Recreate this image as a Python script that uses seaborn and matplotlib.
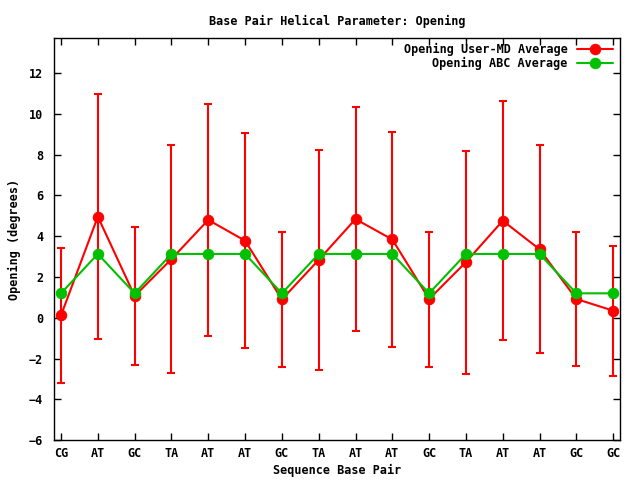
import numpy as np
import pandas as pd
import matplotlib
matplotlib.use("Agg")
import matplotlib.pyplot as plt
import seaborn as sns

# Data
base_pairs = ["CG", "AT", "GC", "TA", "AT", "AT", "GC", "TA",
              "AT", "AT", "GC", "TA", "AT", "AT", "GC", "GC"]
user_md_avg = [0.12, 4.96, 1.07, 2.88, 4.80, 3.78, 0.90, 2.84,
               4.84, 3.84, 0.92, 2.73, 4.76, 3.36, 0.92, 0.35]
user_md_sd = [3.32, 5.99, 3.39, 5.57, 5.69, 5.28, 3.29, 5.39,
              5.48, 5.28, 3.31, 5.47, 5.86, 5.10, 3.28, 3.19]
abc_avg = [1.20, 3.13, 1.20, 3.13, 3.13, 3.13, 1.20, 3.13,
           3.13, 3.13, 1.20, 3.13, 3.13, 3.13, 1.20, 1.20]

red = "#ff0000"
green = "#00c000"

sns.set_style("ticks")
plt.rcParams["font.family"] = ["DejaVu Sans Mono"]
plt.rcParams["font.weight"] = "bold"
plt.rcParams["font.size"] = 8.5
for key in ["text.color", "axes.labelcolor", "xtick.color", "ytick.color",
            "axes.edgecolor"]:
    plt.rcParams[key] = "black"

df = pd.DataFrame({
    "pos": np.arange(len(base_pairs)),
    "user_md": user_md_avg,
    "sd": user_md_sd,
    "abc": abc_avg,
})

fig = plt.figure(figsize=(6.4, 4.8), dpi=100)
ax = fig.add_axes([0.085, 0.083, 0.884, 0.837])

ax.errorbar(df["pos"], df["user_md"], yerr=df["sd"], fmt="none",
            ecolor=red, elinewidth=1.5, capsize=3, capthick=1.5, zorder=2)
sns.lineplot(data=df, x="pos", y="user_md", ax=ax, color=red, lw=1.5,
             marker="o", markersize=7.5, markeredgecolor=red,
             label="Opening User-MD Average", zorder=3)
sns.lineplot(data=df, x="pos", y="abc", ax=ax, color=green, lw=1.5,
             marker="o", markersize=7.5, markeredgecolor=green,
             label="Opening ABC Average", zorder=4)

ax.set_xlim(-0.18, 15.19)
ax.set_ylim(-6, 13.7)
ax.set_xticks(df["pos"])
ax.set_xticklabels(base_pairs)
ax.set_yticks(np.arange(-6, 13, 2))
ax.tick_params(direction="in", top=True, right=True, length=5, width=1,
               labelsize=8.5, colors="black")
ax.tick_params(axis="y", pad=8)
ax.tick_params(axis="x", pad=5)
for s in ax.spines.values():
    s.set_linewidth(1)
    s.set_color("black")

ax.set_title("Base Pair Helical Parameter: Opening", fontsize=8.5,
             fontweight="bold", pad=10, color="black")
ax.set_xlabel("Sequence Base Pair", fontweight="bold", labelpad=3)
ax.set_ylabel("Opening (degrees)", fontweight="bold", labelpad=6)

ax.legend(loc="upper right", frameon=False, markerfirst=False,
          handlelength=3, borderaxespad=0.0, labelspacing=0.1,
          bbox_to_anchor=(0.995, 1.0), prop={"weight": "bold", "size": 8.5})

fig.savefig("out.png", dpi=100)
